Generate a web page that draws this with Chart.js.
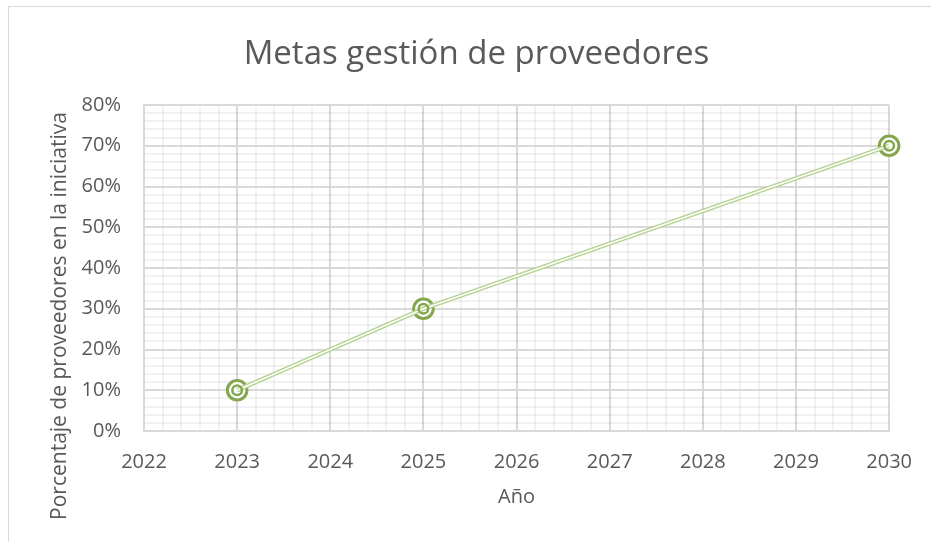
<!DOCTYPE html>
<html>
<head>
<meta charset="utf-8">
<script src="https://cdn.jsdelivr.net/npm/chart.js@4"></script>
<style>
  html, body { margin: 0; padding: 0; background: #fff; overflow: hidden; }
  #frame { position: absolute; left: 8px; top: 6px; width: 1000px; height: 1000px; border: 1px solid #d9d9d9; }
  #chart { position: absolute; left: 0; top: 0; }
</style>
</head>
<body>
<div id="frame"></div>
<canvas id="chart" width="931" height="542"></canvas>
<script>
// data
const years = [2023, 2025, 2030];
const metas = [10, 30, 70]; // percent
const xMin = 2022, xMax = 2030;
const yMin = 0, yMax = 80;

const textColor = "#595959";
const majorGrid = "#d9d9d9";
const minorGrid = "rgba(0,0,0,0.05)";
const lineGreen = "#b3d28f";
const markGreen = "#84a64f";

const points = years.map((y, i) => ({ x: y, y: metas[i] }));

const isMajorX = v => Math.abs(v - Math.round(v)) < 1e-6;
const isMajorY = v => Math.abs(v / 10 - Math.round(v / 10)) < 1e-6;

// y axis title, centred on the whole chart like the original
const yTitlePlugin = {
  id: "yTitle",
  afterDraw(chart) {
    const ctx = chart.ctx;
    ctx.save();
    ctx.translate(60, 316);
    ctx.rotate(-Math.PI / 2);
    ctx.font = "21px 'Open Sans'";
    ctx.fillStyle = textColor;
    ctx.textAlign = "center";
    ctx.textBaseline = "middle";
    ctx.fillText("Porcentaje de proveedores en la iniciativa", 0, 0);
    ctx.restore();
  }
};

Chart.defaults.font.family = "'Open Sans', sans-serif";
Chart.defaults.color = textColor;

new Chart(document.getElementById("chart").getContext("2d"), {
  type: "line",
  data: {
    datasets: [{
      // inner ring of the marker
      data: points,
      showLine: false,
      pointRadius: 4.8,
      pointBorderWidth: 2.5,
      pointBorderColor: markGreen,
      pointBackgroundColor: "rgba(0,0,0,0)",
      clip: false
    }, {
      // white middle of the double line
      data: points,
      borderColor: "#ffffff",
      borderWidth: 1.5,
      pointRadius: 0,
      tension: 0
    }, {
      // double line
      data: points,
      borderColor: lineGreen,
      borderWidth: 4.5,
      pointRadius: 0,
      tension: 0
    }, {
      // outer ring of the marker
      data: points,
      showLine: false,
      pointRadius: 9.8,
      pointBorderWidth: 3,
      pointBorderColor: markGreen,
      pointBackgroundColor: "#ffffff",
      clip: false
    }]
  },
  options: {
    responsive: false,
    animation: false,
    layout: { padding: { left: 22, right: 0, top: 0, bottom: 0 } },
    plugins: {
      legend: { display: false },
      tooltip: { enabled: false },
      title: {
        display: true,
        text: "Metas gestión de proveedores",
        color: textColor,
        font: { size: 33, weight: "normal" },
        padding: { top: 35, bottom: 30.4 }
      }
    },
    scales: {
      x: {
        type: "linear",
        min: xMin,
        max: xMax,
        afterFit: s => { s.height = 111; },
        ticks: {
          stepSize: 0.2,
          autoSkip: false,
          maxRotation: 0,
          padding: 19,
          font: { size: 20 },
          color: textColor,
          callback: v => isMajorX(v) ? String(Math.round(v)) : ""
        },
        grid: {
          drawTicks: false,
          lineWidth: 2,
          color: c => c.tick && isMajorX(c.tick.value) ? majorGrid : minorGrid
        },
        border: { display: true, color: majorGrid, width: 2 },
        title: {
          display: true,
          text: "Año",
          color: textColor,
          font: { size: 20 },
          padding: { top: 0, bottom: 33 }
        }
      },
      y: {
        min: yMin,
        max: yMax,
        afterFit: s => { s.width = 122; },
        ticks: {
          stepSize: 2,
          autoSkip: false,
          padding: 23,
          font: { size: 20 },
          color: textColor,
          callback: v => isMajorY(v) ? Math.round(v) + "%" : ""
        },
        grid: {
          drawTicks: false,
          lineWidth: 2,
          color: c => c.tick && isMajorY(c.tick.value) ? majorGrid : minorGrid
        },
        border: { display: true, color: majorGrid, width: 2 }
      }
    }
  },
  plugins: [yTitlePlugin]
});
</script>
</body>
</html>
